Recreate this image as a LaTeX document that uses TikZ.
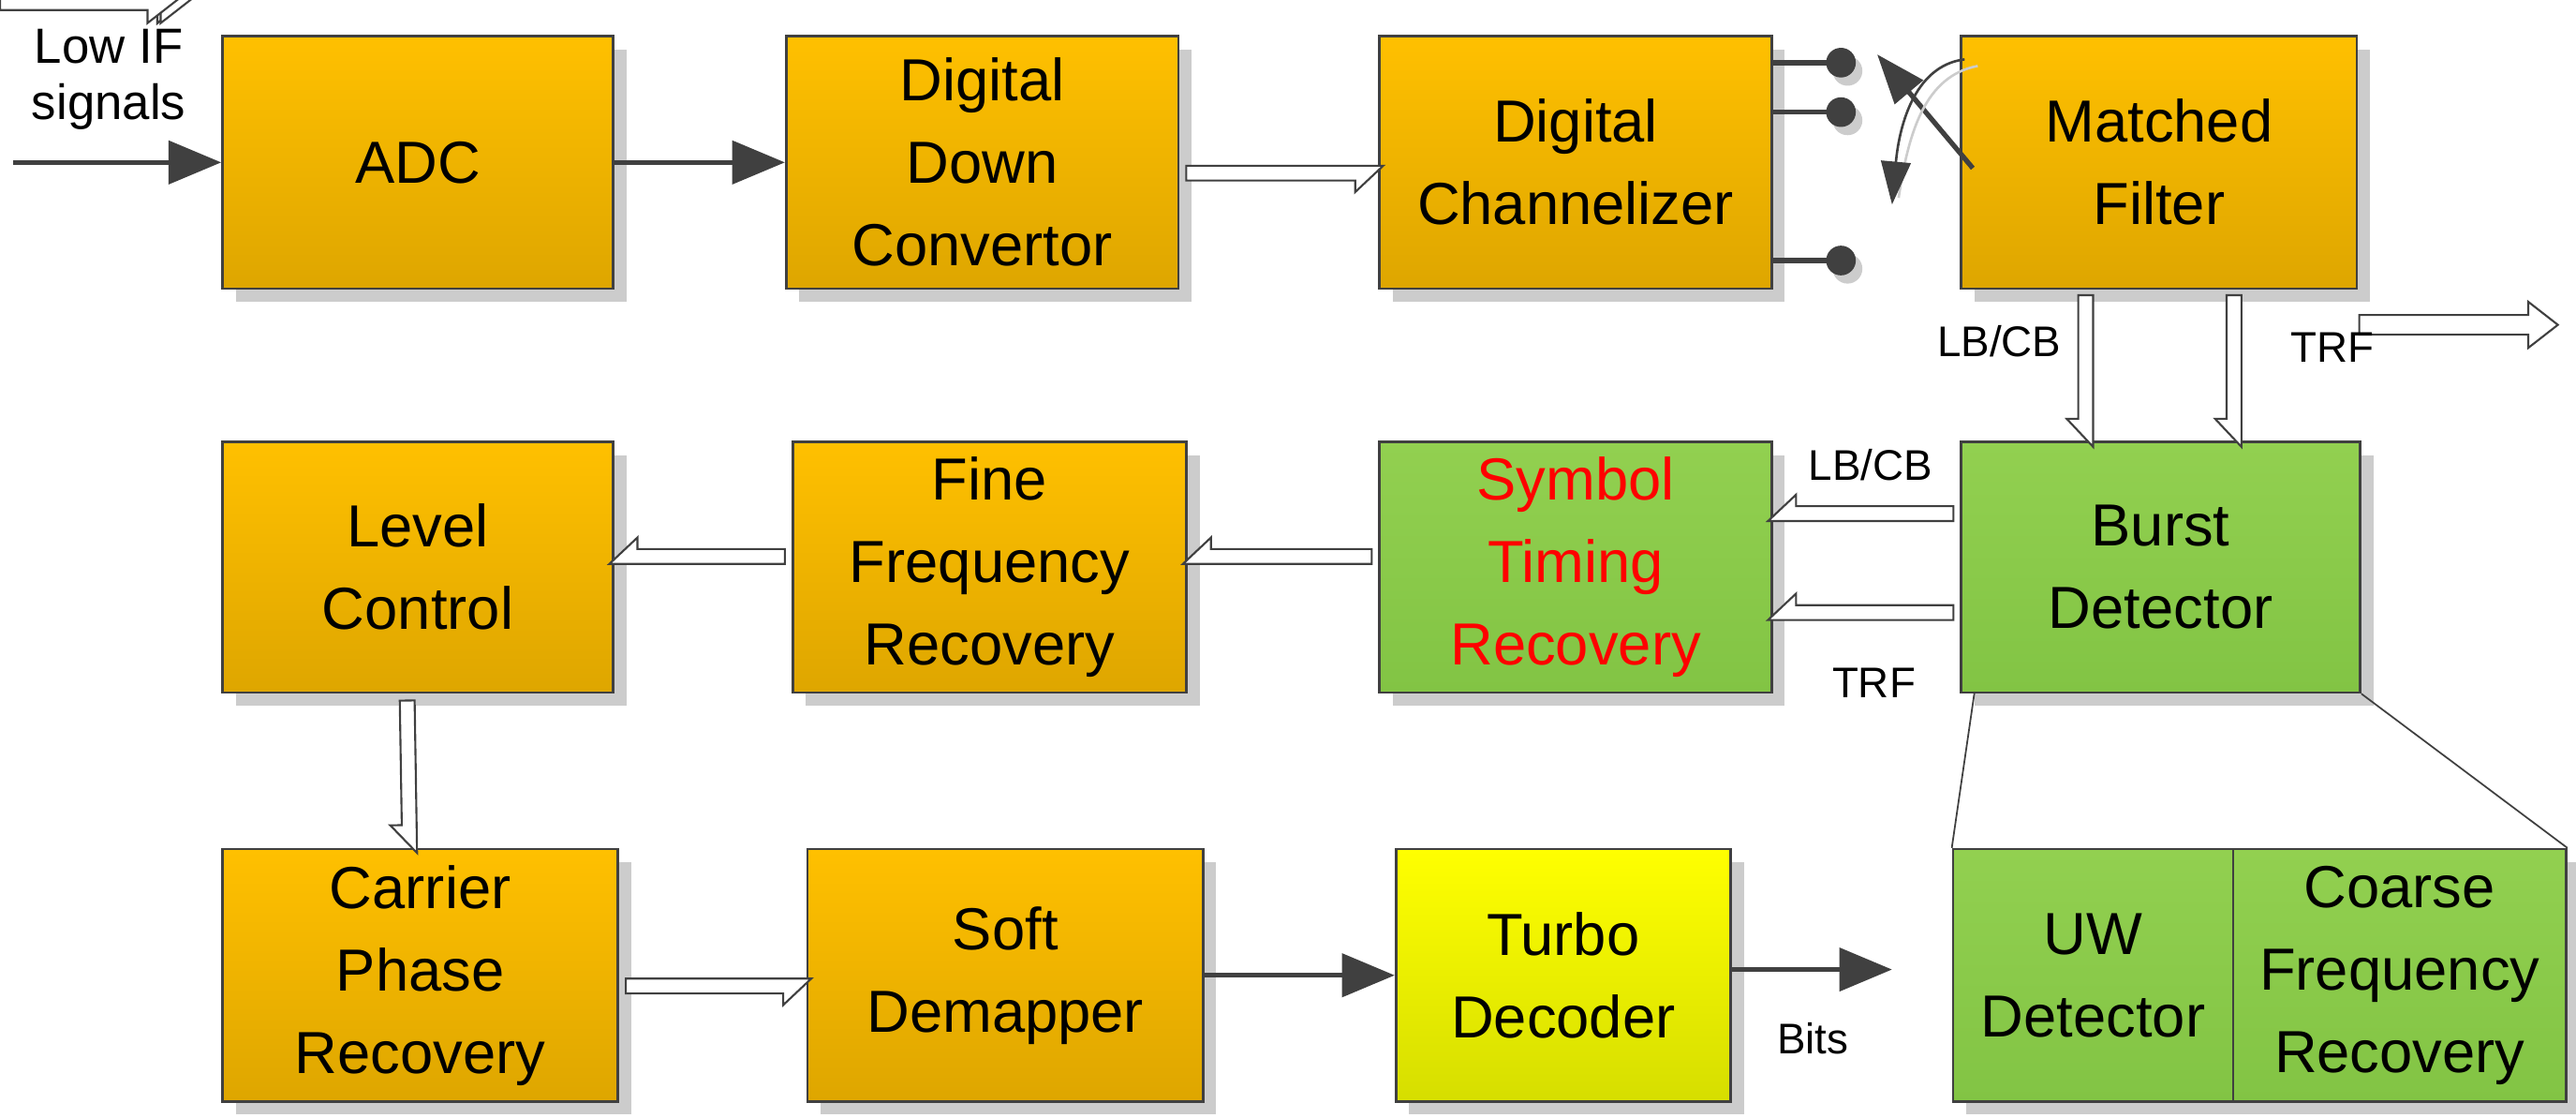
\documentclass[tikz,border=0pt]{standalone}
\usepackage{fontspec}
\setmainfont{Liberation Sans}
\usetikzlibrary{arrows.meta,shadows,calc}
\definecolor{dk}{HTML}{404040}
\definecolor{orT}{HTML}{FFC000}
\definecolor{orB}{HTML}{DEA600}
\definecolor{grT}{HTML}{92D050}
\definecolor{grB}{HTML}{82C444}
\definecolor{yeT}{HTML}{FFFF00}
\definecolor{yeB}{HTML}{D6DE00}
\tikzset{
 box/.style={draw=dk,line width=1.5pt,inner sep=0pt,align=center,font=\fontsize{36}{50}\selectfont,
   general shadow={fill=black!20,shadow xshift=8pt,shadow yshift=-8pt}},
 orb/.style={box,top color=orT,bottom color=orB},
 grb/.style={box,top color=grT,bottom color=grB},
 yeb/.style={box,top color=yeT,bottom color=yeB},
 dark/.style={draw=dk,line width=3pt,-{Triangle[length=32pt,width=26pt]}},
 hol/.style={draw=dk,line width=1.2pt,fill=white},
 lbl/.style={font=\fontsize{26}{30}\selectfont},
}
\newcommand\harr[2]{\path let \p1=#1, \p2=#2, \n1={atan2(\y2-\y1,\x2-\x1)}, \n2={veclen(\x2-\x1,\y2-\y1)} in
  [shift={(\p1)}, rotate=\n1] [draw=black!20,fill=black!20] (4pt,-11pt) -- (\n2-14pt,-11pt) -- (\n2-14pt,-18pt) -- (\n2+3pt,-2pt) -- (4pt,-2pt) -- cycle
  [shift={(\p1)}, rotate=\n1] [hol] (0pt,-6pt) -- (\n2-18pt,-6pt) -- (\n2-18pt,-14pt) -- (\n2,0pt) -- (\n2-18pt,14pt) -- (\n2-18pt,6pt) -- (0pt,6pt) -- cycle;}
\begin{document}
\begin{tikzpicture}[x=1pt,y=-1pt]
\useasboundingbox (0,0) rectangle (1563,678);
% row 1
\node[orb,minimum width=237pt,minimum height=153pt] (adc) at (253.5,98.5) {ADC};
\node[orb,minimum width=238pt,minimum height=153pt] (ddc) at (596,98.5) {Digital\\Down\\Convertor};
\node[orb,minimum width=238pt,minimum height=153pt] (chan) at (956,98.5) {Digital\\Channelizer};
\node[orb,minimum width=240pt,minimum height=153pt] (mf) at (1310,98.5) {Matched\\Filter};
% row 2
\node[orb,minimum width=237pt,minimum height=152pt] (lc) at (253.5,344) {Level\\Control};
\node[orb,minimum width=239pt,minimum height=152pt] (ffr) at (600.5,344) {Fine\\Frequency\\Recovery};
\node[grb,minimum width=238pt,minimum height=152pt,text=red] (str) at (956,344) {Symbol\\Timing\\Recovery};
\node[grb,minimum width=242pt,minimum height=152pt] (bd) at (1311,344) {Burst\\Detector};
% row 3
\node[orb,minimum width=240pt,minimum height=153pt] (cpr) at (255,591.5) {Carrier\\Phase\\Recovery};
\node[orb,minimum width=240pt,minimum height=153pt] (sd) at (610,591.5) {Soft\\Demapper};
\node[yeb,minimum width=203pt,minimum height=153pt] (td) at (948.5,591.5) {Turbo\\Decoder};
\node[grb,minimum width=170pt,minimum height=153pt] (uw) at (1270,591.5) {UW\\Detector};
\node[grb,minimum width=202pt,minimum height=153pt] (cfr) at (1456,591.5) {Coarse\\Frequency\\Recovery};
% input
\node[font=\fontsize{30}{34}\selectfont,align=center] (in) at (66,48) {Low IF\\signals};
\coordinate (start) at (8,98.5);
\draw[dark] (start) -- (adc.west);
\draw[dark] (adc.east) -- (ddc.west);
\harr{(ddc.east)}{(chan.west)}
% switch
\foreach \yy/\nm in {38/a,68/b,158/c}{
  \coordinate (s\nm) at (1075,\yy);
  \coordinate (d\nm) at (1117,\yy);
  \fill[black!20] ($(d\nm)+(4,5)$) circle (9);
  \draw[dk,line width=3pt] (s\nm) -- (d\nm);
  \fill[dk] (d\nm) circle (9);
}
\coordinate (lv) at (1197,102);
\coordinate (lt) at (1139,33);
\draw[dk,line width=3pt,-{Triangle[length=30pt,width=22pt]}] (lv) -- (lt);
\coordinate (c0) at (1192,36);
\coordinate (c1) at (1148,124);
\draw[black!20,line width=1.5pt] (1200,40) .. controls (1168,46) and (1158,80) .. (1152,120);
\draw[dk,line width=1.5pt,-{Triangle[length=26pt,width=18pt]}] (c0) .. controls (1160,40) and (1152,80) .. (c1);
% MF -> BD
\harr{(1272,175)}{(1272,268)}
\harr{(1362,175)}{(1362,268)}
\node[lbl] (l1) at (1213,207) {LB/CB};
\node[lbl] (l2) at (1415,211) {TRF};
% BD -> STR
\harr{(bd.west|-0,318)}{(str.east|-0,318)}
\harr{(bd.west|-0,378)}{(str.east|-0,378)}
\node[lbl] (l3) at (1135,282) {LB/CB};
\node[lbl] (l4) at (1137,414) {TRF};
\harr{(str.west)}{(ffr.east)}
\harr{(ffr.west)}{(lc.east)}
\harr{(lc.south)}{(cpr.north)}
\harr{(cpr.east)}{(sd.west)}
\draw[dark] (sd.east) -- (td.west);
\coordinate (bits) at (1148,588);
\draw[dark] (td.east|-bits) -- (bits);
\node[lbl] (bl) at (1100,630) {Bits};
% burst detector to sub-blocks
\draw[dk,line width=1pt] (1198,420) -- (uw.north west);
\draw[dk,line width=1pt] (bd.south east) -- (cfr.north east);
\end{tikzpicture}
\end{document}
